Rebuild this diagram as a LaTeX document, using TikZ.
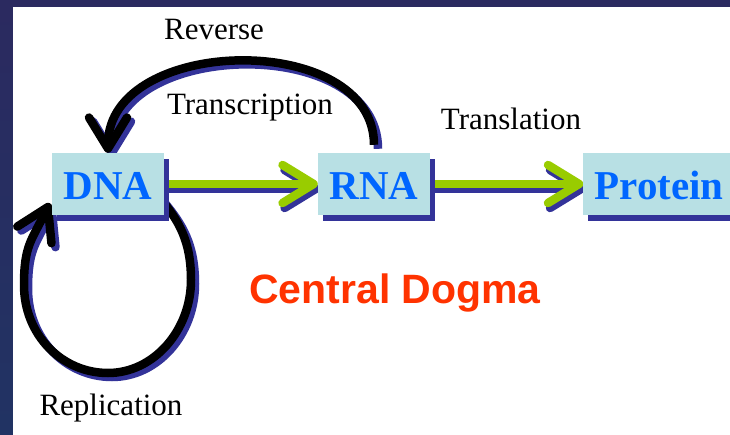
\documentclass[tikz,border=0pt]{standalone}
\usepackage{fontspec}
\setmainfont{Liberation Serif}
\newfontfamily\dogmasans{Liberation Sans}
\usetikzlibrary{arrows.meta,shadows,backgrounds}
\definecolor{DogmaNight}{HTML}{2B2A60}
\definecolor{DogmaNightLow}{HTML}{213363}
\definecolor{DogmaBox}{HTML}{B8E0E4}
\definecolor{DogmaInk}{HTML}{0066FF}
\definecolor{DogmaShade}{HTML}{333399}
\definecolor{DogmaGreen}{HTML}{99CC00}
\definecolor{DogmaRed}{HTML}{FF3300}

\tikzset{
    molbox/.style={fill=DogmaBox, text=DogmaInk, font=\fontsize{41}{41}\selectfont\bfseries,
        minimum width=112pt, minimum height=62pt, inner xsep=11pt, text height=32pt, text depth=0pt,
        general shadow={fill=DogmaShade, shadow xshift=5pt, shadow yshift=-6pt}},
    steplabel/.style={anchor=base, font=\fontsize{31}{31}\selectfont},
    dogmatip/.style={-{Straight Barb[length=31pt,width=38pt,round]}, line width=8.5pt},
    flowarrow/.style={dogmatip, DogmaGreen},
    flowshadow/.style={dogmatip, DogmaShade, transform canvas={xshift=2pt,yshift=-5pt}},
    backarrow/.style={dogmatip, black},
    backshadow/.style={dogmatip, DogmaShade, transform canvas={xshift=4pt,yshift=-4pt}},
}

\begin{document}
\begin{tikzpicture}[x=1pt, y=-1pt]
    \useasboundingbox (0,0) rectangle (730,435);
    \clip (0,0) rectangle (730,435);

    % ========== SLIDE ==========
    \begin{scope}[on background layer]
        \shade[top color=DogmaNight, bottom color=DogmaNightLow] (0,0) rectangle (730,435);
        \fill[white] (13,7) rectangle (730,435);
    \end{scope}

    % ========== MOLECULES ==========
    \node[molbox] (dna) at (108,184) {DNA};
    \node[molbox] (rna) at (374,184) {RNA};
    \node[molbox] (protein) at (659,184) {Protein};

    % Process names
    \node[steplabel] (reverse) at (214,40) {Reverse};
    \node[steplabel] (transcription) at (250,115) {Transcription};
    \node[steplabel] (translation) at (511,130) {Translation};
    \node[steplabel] (replication) at (111,415) {Replication};

    % Title
    \node[anchor=base, text=DogmaRed, font=\dogmasans\bfseries\fontsize{41}{41}\selectfont]
        (title) at (395,303) {Central Dogma};

    % ========== ARROWS ==========
    \coordinate (loopright) at (191,280);
    \coordinate (loopbottom) at (108,373);
    \coordinate (loopleft) at (24,285);
    \begin{scope}[on background layer]
        % DNA -> RNA -> Protein
        \draw[flowshadow] (dna.east) -- (rna.west);
        \draw[flowarrow] (dna.east) -- (rna.west);
        \draw[flowshadow] (rna.east) -- (protein.west);
        \draw[flowarrow] (rna.east) -- (protein.west);

        % Reverse transcription
        \draw[backshadow] ([yshift=8pt]rna.north) .. controls +(0,-115) and +(0,-118) .. (dna.north);
        \draw[backarrow] ([yshift=8pt]rna.north) .. controls +(0,-115) and +(0,-118) .. (dna.north);

        % Replication loop
        \foreach \looklike in {backshadow,backarrow}
            \draw[\looklike] ([xshift=-4pt,yshift=17pt]dna.south east)
                .. controls +(18,22) and +(0,-40) .. (loopright)
                .. controls +(0,50) and +(46,0) .. (loopbottom)
                .. controls +(-46,0) and +(0,50) .. (loopleft)
                .. controls +(0,-40) and +(-18,37) .. ([xshift=-2pt,yshift=12pt]dna.south west);
    \end{scope}

\end{tikzpicture}
\end{document}
